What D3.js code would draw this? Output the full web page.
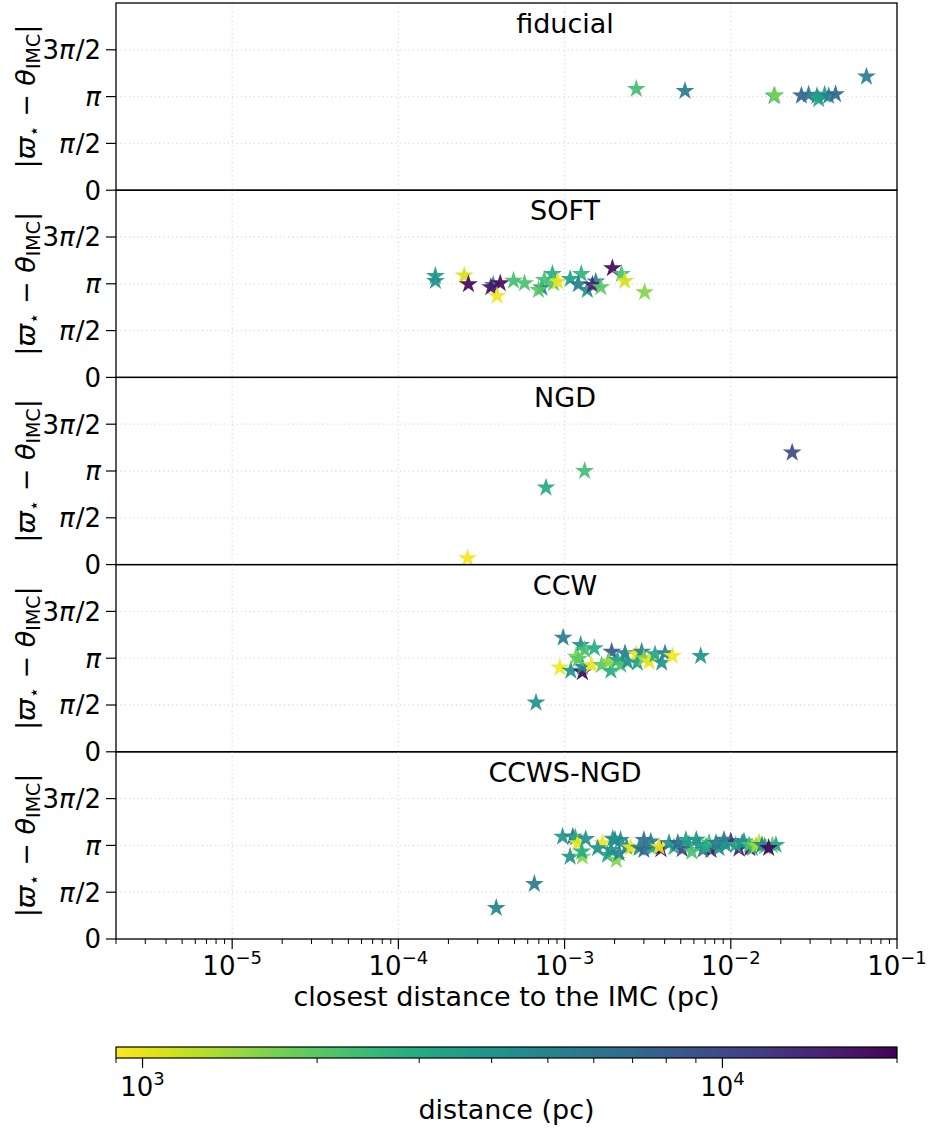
<!DOCTYPE html>
<html><head><meta charset="utf-8">
<script src="https://cdn.jsdelivr.net/npm/d3@7"></script>
<style>body{margin:0;background:#fff} text{font-family:"DejaVu Sans",sans-serif;fill:#000}</style>
</head><body><svg id="c" width="932" height="1131"></svg>
<script>
// ---------------- data ----------------
const panelNames = ["fiducial", "SOFT", "NGD", "CCW", "CCWS-NGD"];

const fiducialX = [2.7e-3, 5.3e-3, 0.0182, 0.0184, 0.0266, 0.0294, 0.033, 0.0338, 0.0367, 0.0388, 0.0427, 0.0655];
const fiducialY = [3.396, 3.330, 3.157, 3.186, 3.173, 3.204, 3.160, 3.050, 3.204, 3.160, 3.220, 3.811];
const fiducialD = [2300, 5500, 2800, 1700, 7500, 6000, 4200, 3300, 3800, 5200, 7000, 5500];

const softX = [1.67e-4, 1.67e-4, 2.49e-4, 2.64e-4, 3.72e-4, 3.6e-4, 4.1e-4, 3.92e-4, 4.93e-4, 5.74e-4, 7.3e-4, 6.97e-4, 7.55e-4, 8.45e-4, 8.57e-4, 9.08e-4, 1.08e-3, 1.26e-3, 1.21e-3, 1.37e-3, 1.54e-3, 1.47e-3, 1.65e-3, 1.94e-3, 2.2e-3, 2.3e-3, 3.03e-3];
const softY = [3.403, 3.236, 3.415, 3.126, 3.101, 3.025, 3.157, 2.733, 3.245, 3.157, 3.013, 2.934, 3.270, 3.471, 3.157, 3.214, 3.302, 3.471, 3.123, 2.934, 3.214, 3.101, 3.025, 3.663, 3.471, 3.236, 2.856];
const softD = [3800, 4200, 1100, 19000, 5000, 17000, 18000, 950, 2300, 2200, 5000, 2000, 2300, 3000, 2100, 1000, 3300, 2700, 5500, 4200, 5000, 15000, 2000, 19000, 2200, 1100, 1600];

const ngdX = [2.61e-4, 7.73e-4, 1.32e-3, 0.0234];
const ngdY = [0.210, 2.582, 3.142, 3.757];
const ngdD = [950, 3000, 2300, 10000];

const ccwX = [9.8e-4, 6.73e-4, 9.37e-4, 1.09e-3, 1.28e-3, 1.28e-3, 1.25e-3, 1.32e-3, 1.17e-3, 1.21e-3, 1.51e-3, 1.45e-3, 1.67e-3, 1.9e-3, 1.92e-3, 1.85e-3, 2.08e-3, 2.31e-3, 2.18e-3, 2.39e-3, 2.7e-3, 2.91e-3, 2.74e-3, 3.0e-3, 3.22e-3, 3.5e-3, 3.84e-3, 4.02e-3, 4.45e-3, 6.59e-3];
const ccwY = [3.830, 1.649, 2.824, 2.721, 2.667, 2.856, 3.585, 3.418, 3.192, 3.113, 3.475, 2.912, 2.912, 2.721, 3.358, 3.025, 3.082, 3.305, 2.912, 3.025, 3.270, 3.358, 2.991, 3.138, 3.025, 3.270, 2.991, 3.305, 3.214, 3.214];
const ccwD = [5500, 4200, 950, 4000, 19000, 5000, 4000, 2200, 1700, 2000, 3000, 1000, 2000, 3000, 8500, 1500, 3200, 5500, 2200, 4200, 1000, 5000, 3500, 1600, 1000, 3200, 4000, 5000, 950, 4000];

const ccwsX = [3.8e-3, 5.1e-3, 1.0e-2, 1.12e-2, 7.6e-3, 1.3e-2,
  3.88e-4, 6.58e-4, 9.73e-4, 1.12e-3, 1.16e-3, 1.2e-3, 1.34e-3, 1.08e-3, 1.28e-3, 1.27e-3, 1.69e-3, 1.58e-3, 1.81e-3, 2.05e-3, 2.01e-3, 2.17e-3, 1.9e-3, 2.13e-3, 2.36e-3, 2.5e-3, 3.0e-3, 2.81e-3, 3.37e-3,
  3.0e-3, 3.3e-3, 4.55e-3, 5.6e-3, 6.2e-3, 6.8e-3, 7.4e-3, 8.5e-3, 9.1e-3, 1.2e-2, 1.35e-2, 1.48e-2, 1.6e-2, 1.78e-2, 1.95e-3,
  3.7e-3, 4.25e-3, 4.8e-3, 5.37e-3, 6.44e-3, 5.83e-3, 7.1e-3, 8.15e-3, 9.35e-3, 1.07e-2, 1.17e-2, 1.29e-2, 1.42e-2, 1.54e-2, 1.87e-2, 1.69e-2];
const ccwsY = [3.016, 3.016, 3.280, 3.032, 2.990, 3.050,
  1.040, 1.847, 3.434, 3.434, 3.399, 3.211, 3.355, 2.761, 2.761, 2.931, 3.211, 3.044, 2.818, 2.652, 3.324, 3.324, 2.988, 2.878, 3.098, 3.066, 3.324, 3.054, 3.054,
  2.985, 3.267, 3.079, 3.173, 3.330, 2.985, 3.236, 3.047, 3.330, 3.267, 3.047, 3.236, 3.110, 3.142, 3.362,
  3.098, 3.223, 3.223, 3.324, 3.154, 2.931, 3.098, 3.223, 3.154, 3.154, 3.223, 3.154, 3.129, 3.154, 3.154, 3.054];
const ccwsD = [19000, 12000, 16000, 15000, 18000, 17000,
  5000, 5500, 4000, 7000, 3000, 1000, 4000, 4000, 1600, 3000, 1000, 4200, 3300, 1600, 5500, 4500, 4000, 5000, 4200, 1000, 6500, 5000, 3300,
  7000, 5500, 3000, 5000, 4200, 6000, 2200, 4000, 6000, 4500, 3000, 1200, 3500, 2000, 4000,
  1000, 4200, 7000, 3500, 4000, 2200, 3000, 5500, 4200, 3000, 4000, 2200, 1400, 5000, 3200, 19000];

const xTickValues = [1e-5, 1e-4, 1e-3, 1e-2, 1e-1];
const xTickExps = ["−5", "−4", "−3", "−2", "−1"];
const yTickValues = [0, 1.5708, 3.1416, 4.7124];
const yTickLabels = [["0"], ["π", "/2"], ["π", ""], ["3", "π", "/2"]];
const cbarTickValues = [1000, 10000];
const cbarTickExps = ["3", "4"];

// ---------------- layout ----------------
const svg = d3.select("#c");
const L = 116, R = 897, T = 3, B = 939;
const nP = panelNames.length;
const pH = (B - T) / nP;
const series = [
  [fiducialX, fiducialY, fiducialD],
  [softX, softY, softD],
  [ngdX, ngdY, ngdD],
  [ccwX, ccwY, ccwD],
  [ccwsX, ccwsY, ccwsD]
];

const x = d3.scaleLog().domain([2e-6, 0.1]).range([L, R]);
const cdom = [900, 20000];
const color = d3.scaleSequentialLog(t => d3.interpolateViridis(1 - t)).domain(cdom);
const star = d3.symbol().type(d3.symbolStar).size(110);
const TK = 10, TKm = 5;

const minorX = [];
for (let e = -6; e <= -2; e++) for (let m = 2; m <= 9; m++) {
  const v = m * Math.pow(10, e);
  if (v >= 2e-6 && v <= 0.1) minorX.push(v);
}

panelNames.forEach((name, i) => {
  const top = T + i * pH, bot = top + pH;
  const y = d3.scaleLinear().domain([0, 6.2832]).range([bot, top]);
  const g = svg.append("g");
  // grid
  g.selectAll(".gx").data(xTickValues).enter().append("line")
    .attr("x1", d => x(d)).attr("x2", d => x(d)).attr("y1", top).attr("y2", bot)
    .attr("stroke", "#dedede").attr("stroke-width", 1.3).attr("stroke-dasharray", "1.3,3");
  g.selectAll(".gy").data(yTickValues).enter().append("line")
    .attr("x1", L).attr("x2", R).attr("y1", d => y(d)).attr("y2", d => y(d))
    .attr("stroke", "#dedede").attr("stroke-width", 1.3).attr("stroke-dasharray", "1.3,3");
  // points
  const [xs, ys, ds] = series[i];
  g.selectAll("path.pt").data(xs.map((v, k) => [v, ys[k], ds[k]])).enter().append("path")
    .attr("d", star)
    .attr("transform", d => `translate(${x(d[0])},${y(d[1])})`)
    .attr("fill", d => color(d[2])).attr("fill-opacity", 0.92);
  // frame
  g.append("rect").attr("x", L).attr("y", top).attr("width", R - L).attr("height", pH)
    .attr("fill", "none").attr("stroke", "#000").attr("stroke-width", 1.3);
  // y ticks
  yTickValues.forEach((v, k) => {
    g.append("line").attr("x1", L - TK).attr("x2", L).attr("y1", y(v)).attr("y2", y(v))
      .attr("stroke", "#000").attr("stroke-width", 1.2);
    const t = g.append("text").attr("x", L - 15).attr("y", y(v)).attr("dy", "0.36em")
      .attr("text-anchor", "end").style("font-size", "26px");
    yTickLabels[k].forEach(s => {
      const ts = t.append("tspan").text(s);
      if (s === "π") ts.style("font-style", "italic");
      if (s === "/2") ts.attr("dx", 1);
    });
  });
  // title
  g.append("text").attr("x", 565).attr("y", top + 30).attr("text-anchor", "middle")
    .style("font-size", "27px").text(name);
  // y label
  const yl = g.append("text").attr("transform", `translate(35,${(top + bot) / 2}) rotate(-90)`)
    .attr("text-anchor", "middle").style("font-size", "27px");
  yl.append("tspan").text("|");
  yl.append("tspan").text("ϖ").style("font-style", "italic");
  yl.append("tspan").text("⋆").attr("dy", 5).style("font-size", "18px");
  yl.append("tspan").text(" − ").attr("dy", -5);
  yl.append("tspan").text("θ").style("font-style", "italic");
  yl.append("tspan").text("IMC").attr("dy", 5).style("font-size", "19px");
  yl.append("tspan").text("|").attr("dy", -5);
});

// x axis ticks (bottom panel)
const ax = svg.append("g");
xTickValues.forEach((v, k) => {
  ax.append("line").attr("x1", x(v)).attr("x2", x(v)).attr("y1", B).attr("y2", B + TK)
    .attr("stroke", "#000").attr("stroke-width", 1.2);
  const t = ax.append("text").attr("x", x(v)).attr("y", B + 36).attr("text-anchor", "middle")
    .style("font-size", "26px");
  t.append("tspan").text("10");
  t.append("tspan").text(xTickExps[k]).attr("dy", -11).style("font-size", "18px");
});
minorX.forEach(v => {
  ax.append("line").attr("x1", x(v)).attr("x2", x(v)).attr("y1", B).attr("y2", B + TKm)
    .attr("stroke", "#000").attr("stroke-width", 1);
});
ax.append("text").attr("x", (L + R) / 2).attr("y", B + 67).attr("text-anchor", "middle")
  .style("font-size", "27px").text("closest distance to the IMC (pc)");

// colorbar
const cT = 1047, cH = 11;
const cx = d3.scaleLog().domain(cdom).range([L, R]);
const defs = svg.append("defs");
const grad = defs.append("linearGradient").attr("id", "cb").attr("x1", "0%").attr("x2", "100%");
d3.range(0, 1.0001, 0.02).forEach(t => {
  grad.append("stop").attr("offset", (t * 100) + "%").attr("stop-color", d3.interpolateViridis(1 - t));
});
svg.append("rect").attr("x", L).attr("y", cT).attr("width", R - L).attr("height", cH)
  .attr("fill", "url(#cb)").attr("stroke", "#000").attr("stroke-width", 1.2);
const cminor = [900, 2000, 3000, 4000, 5000, 6000, 7000, 8000, 9000, 20000];
cminor.forEach(v => {
  svg.append("line").attr("x1", cx(v)).attr("x2", cx(v)).attr("y1", cT + cH).attr("y2", cT + cH + TKm)
    .attr("stroke", "#000").attr("stroke-width", 1);
});
cbarTickValues.forEach((v, k) => {
  svg.append("line").attr("x1", cx(v)).attr("x2", cx(v)).attr("y1", cT + cH).attr("y2", cT + cH + TK)
    .attr("stroke", "#000").attr("stroke-width", 1.2);
  const t = svg.append("text").attr("x", cx(v)).attr("y", cT + cH + 38).attr("text-anchor", "middle")
    .style("font-size", "26px");
  t.append("tspan").text("10");
  t.append("tspan").text(cbarTickExps[k]).attr("dy", -11).style("font-size", "18px");
});
svg.append("text").attr("x", (L + R) / 2).attr("y", 1119).attr("text-anchor", "middle")
  .style("font-size", "27px").text("distance (pc)");
</script></body></html>
